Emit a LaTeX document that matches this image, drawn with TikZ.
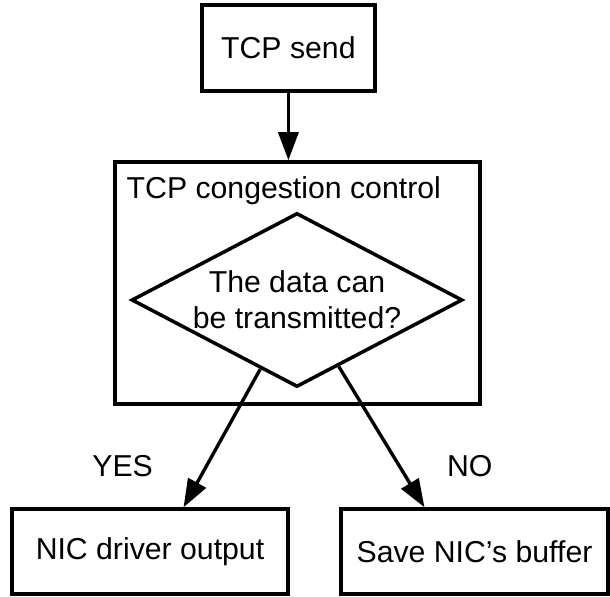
\documentclass[tikz,border=0pt]{standalone}
\usepackage{fontspec}
\setmainfont{Liberation Sans}
\usetikzlibrary{shapes.geometric,arrows.meta,calc}

\tikzset{
  box/.style={draw, line width=2.5pt, rectangle, inner sep=0pt},
  flow/.style={line width=2.4pt, -{Triangle[length=0.7cm,width=0.5cm]}},
  tag/.style={inner sep=0pt},
}

\begin{document}
\begin{tikzpicture}[font=\fontsize{21.5}{25.6}\selectfont]

    % Frame
    \useasboundingbox (0,0) rectangle (15.25,14.9);

    % Sender
    \node[box, minimum width=4.325cm, minimum height=2.15cm] (send) at (7.21,13.7) {TCP send};

    % Congestion control block
    \node[box, minimum width=9.125cm, minimum height=6.05cm] (cc) at (7.4375,7.825) {};
    \node[tag, anchor=base west] (cctitle) at ($(cc.north west)+(0.33,-0.95)$) {TCP congestion control};

    % Decision
    \node[draw, diamond, aspect=1.9, line width=2.5pt, inner sep=0pt,
          minimum width=8.275cm, minimum height=4.35cm, align=center]
          (check) at (7.425,7.4) {The data can\\be transmitted?};

    % Outcomes
    \node[box, minimum width=6.9cm, minimum height=2.125cm] (nic) at (3.75,1.1125) {NIC driver output};
    \node[box, minimum width=6.675cm, minimum height=2.125cm] (buf) at (11.8625,1.1125) {Save NIC’s buffer};

    % Connectors
    \draw[flow] (send.south) -- (send.south |- cc.north);
    \draw[flow] ($(check.south)!0.22!(check.west)$) -- ($(nic.north west)!0.62!(nic.north east)$)
        node[tag, pos=0.7, left=1.3cm] (yes) {YES};
    \draw[flow] ($(check.south)!0.25!(check.east)$) -- ($(buf.north west)!0.315!(buf.north east)$)
        node[tag, pos=0.708, right=1.15cm] (no) {NO};

\end{tikzpicture}
\end{document}
